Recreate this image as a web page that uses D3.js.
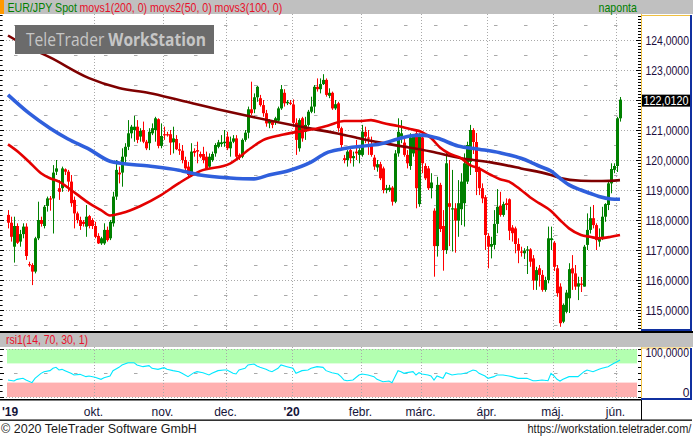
<!DOCTYPE html>
<html><head><meta charset="utf-8">
<script src="https://cdn.jsdelivr.net/npm/d3@7/dist/d3.min.js"></script>
<style>
body{margin:0;background:#fff;}
svg{display:block;font-family:"Liberation Sans",Arial,sans-serif;}
</style>
</head><body>
<svg id="c" width="693" height="437"></svg>
<script>
// ---------- DATA ----------
const opens = [118.17,117.91,117.11,117.80,117.28,117.53,117.78,116.53,116.50,116.28,117.39,118.00,117.80,118.47,118.72,118.72,119.61,119.06,119.06,119.69,119.61,119.28,118.67,118.22,118.00,117.94,117.78,118.13,118.00,117.80,117.47,117.22,117.22,117.67,117.39,117.89,118.78,119.58,119.58,120.11,120.44,120.89,121.00,121.11,120.78,121.00,120.61,120.56,120.89,121.00,121.36,120.47,120.86,120.86,120.86,120.59,120.70,120.36,120.31,120.00,119.78,119.50,120.30,120.33,120.20,120.20,120.11,119.78,120.00,120.22,120.44,120.53,120.56,120.78,120.39,120.61,120.72,120.17,120.11,120.67,120.91,121.69,121.69,122.09,122.06,121.83,121.56,121.22,121.31,121.28,121.31,121.72,122.24,121.89,121.91,121.85,121.24,120.39,121.39,120.94,121.17,121.61,121.78,122.44,122.36,122.53,122.67,122.14,122.24,121.72,121.89,121.06,120.06,120.00,120.33,120.06,120.28,120.17,120.17,120.94,120.75,120.50,120.08,119.75,119.86,119.72,119.00,119.00,119.08,118.61,120.22,120.78,120.58,120.17,119.80,120.22,120.89,118.53,120.75,119.80,119.72,119.06,118.31,117.13,119.17,117.80,117.00,118.56,118.37,118.39,117.98,118.36,118.56,119.28,119.94,121.00,120.60,119.72,119.06,118.76,117.47,117.11,117.17,117.87,118.48,118.17,118.56,118.69,117.75,117.72,117.20,116.95,116.89,116.98,117.02,116.72,115.98,116.39,116.17,115.67,116.00,117.33,117.24,116.39,115.78,114.61,114.94,115.39,116.39,116.22,115.78,115.88,115.78,117.17,117.67,118.06,117.83,117.28,117.39,118.11,118.50,119.22,119.67,119.80,121.39];
const highs = [118.33,118.11,118.11,117.89,117.67,117.89,117.89,116.61,116.56,117.44,118.61,118.11,118.50,118.78,118.80,119.83,120.00,119.33,119.78,119.72,119.67,119.50,118.78,118.28,118.11,118.00,118.50,118.17,118.06,117.94,117.56,117.44,117.89,117.78,118.00,118.94,120.00,119.78,120.39,120.56,121.33,121.17,121.47,121.33,121.06,121.28,120.67,121.06,121.22,121.44,121.39,121.22,121.11,120.94,121.00,121.11,120.83,120.56,120.50,120.11,119.94,120.56,120.39,120.61,120.28,120.44,120.28,120.22,120.28,120.56,120.67,120.83,121.00,120.94,120.78,120.83,120.83,120.22,120.72,121.00,121.78,122.61,122.22,122.47,122.17,122.00,121.67,121.36,121.33,121.44,121.78,122.50,122.36,122.00,122.00,122.02,121.39,121.39,121.44,121.44,121.67,122.11,122.50,122.72,122.72,122.86,122.72,122.39,122.28,122.00,121.94,121.11,120.17,120.33,120.39,120.28,120.67,120.50,121.17,121.11,121.00,120.78,120.17,120.00,119.94,119.78,119.17,119.17,119.13,120.33,121.39,121.33,120.78,120.33,120.89,120.83,121.00,120.89,120.94,119.89,119.80,119.56,118.39,119.44,119.24,118.33,120.28,120.00,119.67,118.56,119.33,119.56,120.22,120.61,121.17,121.06,120.90,119.78,119.22,118.83,117.56,117.44,118.33,119.03,118.94,118.61,118.72,118.72,117.83,117.78,117.39,117.11,117.06,117.13,117.06,116.83,116.44,116.50,116.33,116.11,117.78,117.78,117.30,116.50,115.89,115.22,115.67,116.56,116.83,116.50,116.11,116.10,117.17,118.22,118.44,118.50,117.89,117.72,118.44,118.56,119.28,119.89,119.89,121.44,122.10];
const lows = [117.72,117.28,116.58,117.20,117.11,117.39,116.67,116.44,115.83,116.22,117.33,117.78,117.72,118.28,118.31,117.55,119.50,118.67,118.94,119.50,118.94,118.44,117.72,117.89,117.67,117.78,117.44,117.72,117.70,117.39,117.20,117.17,117.17,117.28,117.33,117.78,118.67,119.22,119.11,119.89,120.33,120.72,120.61,120.56,120.61,120.56,120.33,120.33,120.83,120.61,120.39,120.39,120.67,120.78,120.17,120.22,120.33,120.17,119.89,119.61,119.39,119.44,120.11,119.89,120.06,119.89,119.67,119.72,119.94,120.11,120.39,120.44,120.44,120.33,120.11,120.56,120.00,120.00,120.06,120.61,120.72,121.50,121.56,121.94,121.78,121.44,121.11,121.06,121.06,121.17,121.28,121.67,121.78,121.83,121.83,121.11,120.17,120.28,120.61,120.67,121.11,121.56,121.56,122.28,122.22,122.50,122.11,122.06,121.67,121.67,120.94,120.39,119.89,119.78,119.89,119.78,120.00,119.89,120.11,120.56,120.17,120.11,119.67,119.61,119.33,118.89,118.89,118.94,118.48,118.56,120.11,120.56,120.11,119.72,119.67,120.11,118.39,118.44,119.56,119.33,119.00,118.72,116.11,116.78,117.60,116.31,116.87,117.13,116.95,116.91,117.44,117.83,117.78,119.20,119.50,120.20,118.83,118.83,118.56,117.00,116.39,116.72,117.02,117.56,118.11,118.11,118.33,117.33,117.28,116.89,116.56,116.78,116.70,116.20,116.44,115.67,115.67,115.78,115.61,115.61,115.89,117.00,116.30,115.44,114.44,114.56,114.89,114.90,115.67,115.67,115.33,115.60,115.78,117.00,117.55,117.72,117.00,117.11,117.33,117.94,118.33,118.89,119.56,119.60,121.28];
const closes = [117.91,117.44,117.80,117.24,117.53,117.78,116.80,116.50,116.28,117.39,118.00,117.87,118.44,118.72,118.69,119.58,119.72,118.94,119.72,119.61,119.28,118.56,118.22,118.00,117.80,117.87,118.11,117.80,117.80,117.44,117.22,117.39,117.67,117.33,117.94,118.78,119.67,119.52,120.11,120.44,120.89,121.11,121.11,120.67,120.97,120.61,120.39,120.94,121.06,121.39,120.47,120.80,120.83,120.83,120.58,120.72,120.36,120.31,120.00,119.72,119.50,120.28,120.24,120.28,120.11,120.00,119.72,120.11,120.20,120.50,120.59,120.59,120.61,120.39,120.61,120.72,120.11,120.09,120.67,120.91,121.69,121.56,122.09,122.44,121.83,121.56,121.22,121.31,121.17,121.39,121.72,122.36,121.89,121.94,121.88,121.24,120.67,121.33,120.72,121.17,121.61,121.78,122.44,122.36,122.53,122.67,122.17,122.24,121.72,121.86,121.06,120.50,120.00,120.28,120.06,120.13,120.22,120.33,120.94,120.78,120.72,120.17,119.78,119.86,119.39,119.00,119.06,119.08,118.61,120.22,120.94,120.89,120.17,119.89,120.75,120.78,119.06,120.78,119.89,119.39,119.06,119.25,117.13,119.17,117.70,117.00,119.89,118.44,118.39,117.98,118.56,119.28,119.89,120.50,121.00,120.60,119.60,119.06,118.72,117.50,117.11,117.20,117.87,118.44,118.17,118.53,118.50,117.64,117.56,117.20,116.98,116.91,116.98,117.02,116.61,115.98,116.33,116.17,115.67,116.00,117.39,117.39,116.44,115.56,114.56,115.17,115.58,116.36,116.22,115.78,115.89,115.86,117.11,117.67,118.06,117.83,117.33,117.42,118.11,118.53,119.22,119.70,119.80,121.39,122.012];

// moving averages, [candle index, value]
const movs1 = [[0,124.15],[7,123.75],[14,123.42],[27,122.73],[37,122.4],[47,122.23],[57,122.0],[74,121.6],[95,121.16],[102,121.03],[111,120.86],[118,120.7],[127,120.53],[141,120.28],[151,120.06],[161,119.92],[171,119.72],[181,119.5],[184,119.4],[191,119.31],[198,119.3],[204,119.33]];
const movs2 = [[0,120.52],[4,120.22],[7,119.94],[11,119.56],[14,119.39],[17,119.28],[21,119.0],[24,118.78],[27,118.56],[31,118.33],[34,118.15],[38,118.23],[44,118.46],[51,118.83],[57,119.23],[64,119.63],[74,119.88],[81,120.4],[85,120.66],[91,120.83],[96,120.93],[102,121.03],[107,121.16],[112,121.3],[118,121.3],[121,121.33],[125,121.23],[130,121.13],[134,121.03],[138,120.93],[141,120.73],[144,120.42],[147,120.22],[151,120.06],[154,119.83],[157,119.72],[161,119.5],[164,119.36],[167,119.28],[171,119.0],[174,118.76],[177,118.56],[181,118.3],[184,118.0],[187,117.72],[191,117.5],[194,117.44],[197,117.39],[201,117.44],[204,117.5]];
const movs3 = [[0,122.17],[7,121.56],[14,121.06],[20,120.7],[27,120.36],[34,119.96],[37,119.9],[47,119.8],[57,119.66],[64,119.5],[74,119.4],[82,119.37],[87,119.5],[94,119.66],[101,119.93],[106,120.23],[111,120.36],[118,120.46],[124,120.53],[130,120.7],[134,120.8],[138,120.83],[143,120.73],[150,120.47],[157,120.36],[164,120.24],[171,120.06],[174,119.94],[177,119.8],[181,119.63],[184,119.39],[187,119.17],[191,119.0],[194,118.89],[197,118.78],[201,118.7],[204,118.69]];

// RSI(14), [candle index, value]
const rsi = [[0,35.4],[2,33.3],[3,36.8],[5,38.9],[6,35.4],[8,29.9],[9,38.9],[11,49.3],[12,52.8],[14,54.9],[15,59.7],[16,61.8],[17,56.3],[18,57.6],[19,54.9],[21,49.3],[22,45.8],[24,47.2],[26,42.4],[27,43.8],[29,41.0],[31,36.8],[32,40.3],[34,43.8],[35,54.9],[37,61.8],[38,66.7],[40,71.5],[42,71.5],[43,66.7],[45,63.2],[47,65.3],[48,59.7],[50,57.6],[52,61.1],[53,57.6],[55,54.9],[57,52.8],[58,49.3],[60,42.4],[62,50.7],[63,52.8],[65,50.7],[67,45.8],[68,49.3],[70,54.9],[72,56.3],[73,56.3],[75,49.3],[76,47.9],[77,56.3],[79,59.7],[80,66.7],[82,68.8],[83,64.6],[84,61.8],[86,57.6],[87,54.9],[88,52.8],[90,59.7],[91,66.7],[93,63.2],[95,59.7],[96,49.3],[98,54.9],[100,56.3],[101,59.7],[103,63.2],[105,61.8],[106,54.9],[108,50.7],[110,47.9],[111,42.4],[112,35.4],[113,34.0],[115,35.4],[117,45.8],[118,47.9],[120,45.8],[122,42.4],[123,36.8],[125,31.9],[127,33.3],[128,29.9],[129,42.4],[130,54.9],[131,52.8],[132,49.3],[133,50.7],[135,52.8],[136,45.8],[137,50.7],[138,47.9],[140,45.8],[141,43.8],[142,35.4],[143,43.8],[145,38.9],[146,50.7],[148,45.8],[150,47.9],[151,47.9],[153,50.7],[155,56.3],[156,54.9],[157,49.3],[159,43.8],[160,38.9],[162,42.4],[163,45.8],[165,45.8],[167,43.8],[168,42.4],[170,38.9],[172,38.9],[173,38.9],[175,34.0],[176,34.0],[178,35.4],[180,34.0],[181,49.3],[182,43.8],[183,36.8],[184,33.3],[185,36.8],[187,42.4],[188,42.4],[190,42.4],[192,52.8],[193,56.3],[195,52.8],[197,57.6],[198,59.7],[200,63.2],[202,70.1],[203,73.6],[204,77.1]];

const monthLabels = ["'19","okt.","nov.","dec.","'20","febr.","márc.","ápr.","máj.","jún."];
const monthStart  = [0,29,52,73,95,118,138,160,182,203];
const priceTicks = [124,123,121,120,119,118,117,116,115];
const lastPrice = 122.012;
const rsiTicks = [100,0];

// ---------- DRAW ----------
const svg = d3.select("#c");
const PR = 641, PT = 14, PB = 330;
const x = d3.scaleLinear().domain([0,204]).range([8,620]);
const y = d3.scaleLinear().domain([114,124]).range([340,40]);
const yr = d3.scaleLinear().domain([0,100]).range([397,349]);
const fmt = v => d3.format(".4f")(v).replace(".", ",");
const px = v => Math.round(v) + 0.5;
const GRID = "#a9a9a9";

// text squeezed horizontally to a given width (keeps glyph height)
function fitText(parent, str, x0, y0, w, size, fill, anchorEnd) {
  const t = parent.append("text").attr("font-size", size).attr("fill", fill).text(str);
  const nat = t.node().getComputedTextLength();
  const sx = w / nat;
  const tx = anchorEnd ? x0 - w : x0;
  t.attr("transform", `translate(${tx},${y0}) scale(${sx},1)`);
  return t;
}

const defs = svg.append("defs");
defs.append("clipPath").attr("id","clipMain").append("rect").attr("x",0).attr("y",PT).attr("width",PR).attr("height",PB-PT);
defs.append("clipPath").attr("id","clipRsi").append("rect").attr("x",0).attr("y",347).attr("width",PR).attr("height",52);

// header bar
svg.append("rect").attr("x",0).attr("y",0).attr("width",693).attr("height",PT).attr("fill","#c0c0c0");
svg.append("rect").attr("x",0).attr("y",0).attr("width",4).attr("height",PT).attr("fill","#ff9900");
fitText(svg, "EUR/JPY Spot", 7.5, 11.5, 69.5, 12, "#008000");
fitText(svg, "movs1(200, 0) movs2(50, 0) movs3(100, 0)", 79.5, 11.5, 203, 12, "#e8102a");
fitText(svg, "naponta", 598.5, 11.5, 38.5, 12, "#008000");

// main grid
const gGrid = svg.append("g").attr("clip-path","url(#clipMain)");
d3.range(115,125).forEach(v=>{
  gGrid.append("line").attr("x1",0).attr("x2",PR).attr("y1",px(y(v))).attr("y2",px(y(v)))
    .attr("stroke",GRID).attr("stroke-dasharray","1,2");
});
d3.range(114.5,125,1).forEach(v=>{
  gGrid.append("line").attr("x1",0).attr("x2",PR).attr("y1",px(y(v))).attr("y2",px(y(v)))
    .attr("stroke",GRID).attr("stroke-dasharray","3.5,26.5").attr("stroke-dashoffset",-14);
});
monthStart.slice(1).forEach(i=>{
  const gx = px(x(i)-1.5);
  gGrid.append("line").attr("x1",gx).attr("x2",gx).attr("y1",PT).attr("y2",PB)
    .attr("stroke",GRID).attr("stroke-dasharray","1,2");
});
// left ticks
d3.range(Math.ceil(114.4*6), Math.floor(124.85*6)+1).forEach(k=>{
  const v = k/6, major = (k%6===0);
  svg.append("line").attr("x1",0).attr("x2",major?4:2.6).attr("y1",px(y(v))).attr("y2",px(y(v))).attr("stroke","#000");
});

// candles
const gC = svg.append("g").attr("clip-path","url(#clipMain)");
opens.forEach((o,i)=>{
  const c = closes[i], up = c >= o, col = up ? "#008000" : "#ff0000";
  const cx = Math.round(x(i));
  gC.append("line").attr("x1",cx+0.5).attr("x2",cx+0.5)
    .attr("y1",y(highs[i])).attr("y2",y(lows[i])).attr("stroke",col).attr("stroke-width",1);
  const top = y(Math.max(o,c)), h = Math.max(1.2, Math.abs(y(o)-y(c)));
  gC.append("rect").attr("x",cx-1).attr("y",top).attr("width",3).attr("height",h).attr("fill",col);
});

// moving averages
const line = d3.line().x(d=>x(d[0])).y(d=>y(d[1])).curve(d3.curveMonotoneX);
const gL = svg.append("g").attr("clip-path","url(#clipMain)");
gL.append("path").attr("d",line(movs1)).attr("fill","none").attr("stroke","#7f0000").attr("stroke-width",2.6);
gL.append("path").attr("d",line(movs2)).attr("fill","none").attr("stroke","#e40000").attr("stroke-width",2.6);
gL.append("path").attr("d",line(movs3)).attr("fill","none").attr("stroke","#2f5fdc").attr("stroke-width",3.6);

// watermark
svg.append("rect").attr("x",15).attr("y",25).attr("width",199).attr("height",29).attr("fill","#6b6b6b");
const wm = svg.append("text").attr("font-family","'Open Sans','DejaVu Sans',sans-serif")
  .attr("font-size",17.5).attr("fill","#c6c6c6");
wm.append("tspan").text("TeleTrader ");
wm.append("tspan").attr("font-weight","bold").text("WorkStation");
{
  const nat = wm.node().getComputedTextLength();
  wm.attr("transform", `translate(26,46) scale(${180/nat},1)`);
}

// right price axis
svg.append("rect").attr("x",641).attr("y",PT).attr("width",51).attr("height",PB-PT+1).attr("fill","#fff");
svg.append("line").attr("x1",641.5).attr("x2",641.5).attr("y1",PT).attr("y2",PB).attr("stroke","#f0c040");
svg.append("line").attr("x1",641).attr("x2",691).attr("y1",PT+1.5).attr("y2",PT+1.5).attr("stroke","#f0c040");
svg.append("line").attr("x1",691).attr("x2",691).attr("y1",PT+1).attr("y2",PB+1).attr("stroke","#1030a0").attr("stroke-width",2);
svg.append("line").attr("x1",641).attr("x2",692).attr("y1",PB).attr("y2",PB).attr("stroke","#1030a0").attr("stroke-width",2);
d3.range(1144,1249).forEach(k=>{
  const v = k/10, yy = px(y(v));
  if (yy < PT+1 || yy > PB-1) return;
  const major = (k%10===0);
  svg.append("line").attr("x1",major?636:638).attr("x2",641).attr("y1",yy).attr("y2",yy).attr("stroke","#000");
});
priceTicks.forEach(v=>{
  fitText(svg, fmt(v), 645.5, y(v)+4.6, 43.5, 12, "#1c0c3c");
});
svg.append("rect").attr("x",642).attr("y",y(lastPrice)-5).attr("width",48).attr("height",12).attr("fill","#000");
fitText(svg, fmt(lastPrice), 643.5, y(lastPrice)+5, 45, 12, "#fff");

// separator + RSI header
svg.append("rect").attr("x",0).attr("y",331).attr("width",693).attr("height",2).attr("fill","#000");
svg.append("rect").attr("x",0).attr("y",333).attr("width",693).attr("height",14).attr("fill","#c0c0c0");
fitText(svg, "rsi1(14, 70, 30, 1)", 6, 344, 82, 12, "#e8102a");

// RSI panel
const gR = svg.append("g").attr("clip-path","url(#clipRsi)");
gR.append("rect").attr("x",7).attr("y",yr(100)).attr("width",630).attr("height",yr(70)-yr(100)).attr("fill","#b3ffb0");
gR.append("rect").attr("x",7).attr("y",yr(30)).attr("width",630).attr("height",yr(0)-yr(30)).attr("fill","#ffb0b0");
[100,0].forEach(v=>{
  gR.append("line").attr("x1",0).attr("x2",PR).attr("y1",px(yr(v))).attr("y2",px(yr(v)))
    .attr("stroke",GRID).attr("stroke-dasharray","1,2");
});
gR.append("line").attr("x1",0).attr("x2",PR).attr("y1",px(yr(50))).attr("y2",px(yr(50)))
  .attr("stroke",GRID).attr("stroke-dasharray","3.5,26.5").attr("stroke-dashoffset",-14);
monthStart.slice(1).forEach(i=>{
  const gx = px(x(i)-1.5);
  gR.append("line").attr("x1",gx).attr("x2",gx).attr("y1",347).attr("y2",399)
    .attr("stroke",GRID).attr("stroke-dasharray","1,2");
});
const rline = d3.line().x(d=>x(d[0])).y(d=>yr(d[1]));
gR.append("path").attr("d",rline(rsi)).attr("fill","none").attr("stroke","#00e8ff").attr("stroke-width",1.1);
d3.range(0,101,12.5).forEach(v=>{
  svg.append("line").attr("x1",0).attr("x2",v%50===0?4:2.6).attr("y1",px(yr(v))).attr("y2",px(yr(v))).attr("stroke","#000");
  svg.append("line").attr("x1",638).attr("x2",641).attr("y1",px(yr(v))).attr("y2",px(yr(v))).attr("stroke","#000");
});
// RSI axis box
svg.append("rect").attr("x",641).attr("y",347.5).attr("width",50).attr("height",51).attr("fill","#fff");
svg.append("line").attr("x1",641.5).attr("x2",641.5).attr("y1",347.5).attr("y2",399).attr("stroke","#f0c040");
svg.append("line").attr("x1",641).attr("x2",691).attr("y1",348).attr("y2",348).attr("stroke","#f0c040");
svg.append("line").attr("x1",691).attr("x2",691).attr("y1",348).attr("y2",400).attr("stroke","#1030a0").attr("stroke-width",2);
svg.append("line").attr("x1",641).attr("x2",692).attr("y1",399).attr("y2",399).attr("stroke","#1030a0").attr("stroke-width",2);
fitText(svg, fmt(rsiTicks[0]), 645.5, 357.3, 43.5, 12, "#1c0c3c");
svg.append("text").attr("x",689.5).attr("y",397).attr("font-size",12).attr("fill","#1c0c3c")
  .attr("text-anchor","end").text(String(rsiTicks[1]));

// x axis row
svg.append("rect").attr("x",0).attr("y",399).attr("width",641).attr("height",1.5).attr("fill","#000");
svg.append("rect").attr("x",0).attr("y",419.5).attr("width",692).attr("height",1.3).attr("fill","#000");
svg.append("line").attr("x1",641.5).attr("x2",641.5).attr("y1",400).attr("y2",420).attr("stroke","#000");
monthLabels.forEach((lab,k)=>{
  const gx = x(monthStart[k]) - 1.5;
  const t = svg.append("text").attr("y",415.5).attr("font-size",12).attr("fill","#14143a").text(lab);
  if (lab.startsWith("'")) t.attr("font-weight","bold");
  if (k===0) t.attr("x",2).attr("text-anchor","start");
  else t.attr("x",gx).attr("text-anchor","middle");
});

// footer
fitText(svg, "© 2020 TeleTrader Software GmbH", 1, 433, 196, 12, "#1a1a1a");
fitText(svg, "https://workstation.teletrader.com/", 691.5, 433, 164, 12, "#1a1a1a", true);
</script>
</body></html>
